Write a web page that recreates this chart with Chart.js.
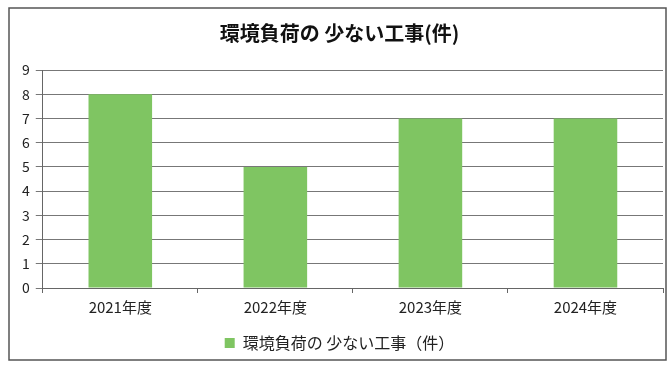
<!DOCTYPE html>
<html>
<head>
<meta charset="utf-8">
<script src="https://cdn.jsdelivr.net/npm/chart.js@4"></script>
<style>
  body { margin: 0; background: #fff; }
  #wrap { width: 669px; height: 365px; }
</style>
</head>
<body>
<div id="wrap"><canvas id="workChart" width="669" height="365"></canvas></div>
<script>
// data
const years = ['2021年度', '2022年度', '2023年度', '2024年度'];
const counts = [8, 5, 7, 7];
const seriesName = '環境負荷の 少ない工事（件）';
const chartTitle = '環境負荷の 少ない工事(件)';

const jpFont = '"Noto Sans CJK JP", "Noto Sans", sans-serif';

// outer frame like the scanned page
const frame = {
  id: 'frame',
  beforeDraw(chart) {
    const c = chart.ctx;
    c.save();
    c.fillStyle = '#fff';
    c.fillRect(0, 0, chart.width, chart.height);
    c.strokeStyle = '#555';
    c.lineWidth = 1.5;
    c.strokeRect(9, 8, 657, 352);
    c.restore();
  }
};

const ctx = document.getElementById('workChart').getContext('2d');
new Chart(ctx, {
  type: 'bar',
  data: {
    labels: years,
    datasets: [{
      label: seriesName,
      data: counts,
      backgroundColor: '#7fc562',
      borderWidth: 0,
      barPercentage: 0.82,
      categoryPercentage: 0.5
    }]
  },
  options: {
    responsive: false,
    animation: false,
    layout: { padding: { left: 16, right: 6, top: 18, bottom: 4 } },
    scales: {
      x: {
        grid: { offset: true, drawOnChartArea: false, drawTicks: true, tickLength: 5, color: '#666' },
        border: { color: '#666', width: 1 },
        ticks: { color: '#222', font: { family: jpFont, size: 15 }, padding: 5 }
      },
      y: {
        min: 0,
        max: 9,
        ticks: { stepSize: 1, color: '#222', font: { family: jpFont, size: 14 }, padding: 6 },
        grid: { color: '#777', tickLength: 7, lineWidth: 1 },
        border: { color: '#666', width: 1 }
      }
    },
    plugins: {
      title: {
        display: true,
        text: chartTitle,
        color: '#111',
        font: { family: jpFont, size: 20, weight: 'bold' },
        padding: { top: 3, bottom: 25 }
      },
      legend: {
        position: 'bottom',
        labels: {
          color: '#222',
          font: { family: jpFont, size: 16 },
          boxWidth: 10,
          boxHeight: 10,
          padding: 14
        }
      },
      tooltip: { enabled: false }
    }
  },
  plugins: [frame]
});
</script>
</body>
</html>
